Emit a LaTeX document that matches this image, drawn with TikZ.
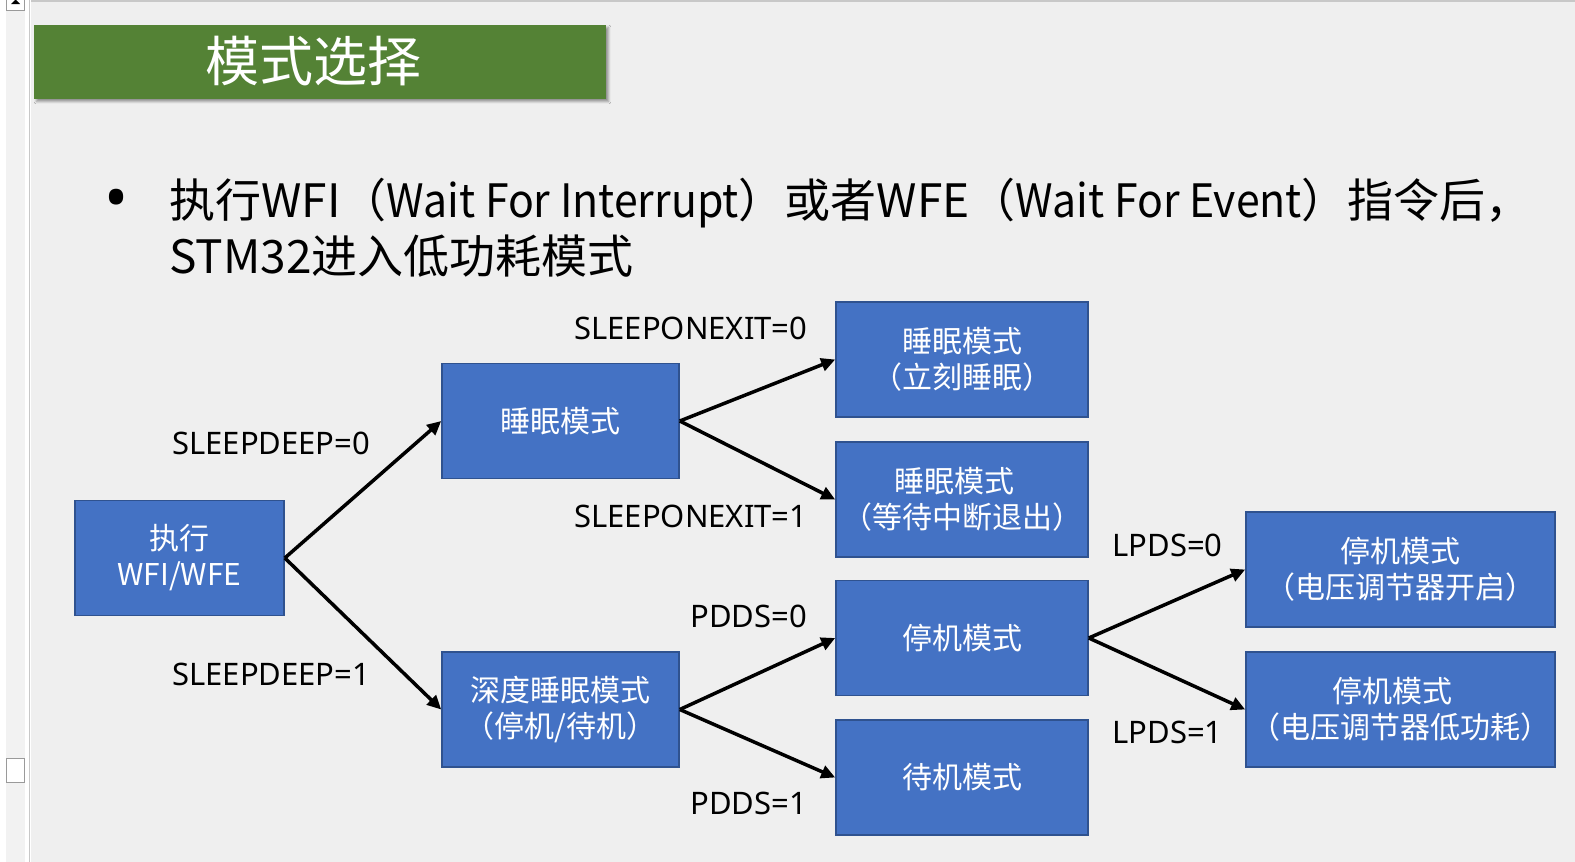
\documentclass[tikz,border=0pt]{standalone}
\usepackage{fontspec}
\setmainfont{Noto Sans CJK SC}
\newfontfamily\condfont{Noto Sans}
\usetikzlibrary{arrows.meta,shadows.blur}

\definecolor{slidebg}{HTML}{EFEFEF}
\definecolor{titlegreen}{HTML}{548235}
\definecolor{boxblue}{HTML}{4472C4}
\definecolor{boxedge}{HTML}{2F528F}
\definecolor{trackgray}{HTML}{F2F2F2}
\definecolor{edgegray}{HTML}{C8C8C8}
\definecolor{thumbgray}{HTML}{9A9A9A}

% narrower setting for the Latin phrases of the body text
\newcommand{\narrowtext}[1]{\scalebox{0.93}[1]{#1}}

\tikzset{
  modebox/.style={draw=boxedge, line width=0.8pt, fill=boxblue, text=white,
    align=center, inner sep=0pt, minimum height=57.5pt,
    font=\fontsize{15pt}{18pt}\selectfont},
  cond/.style={anchor=west, inner sep=0pt, text=black,
    font=\condfont\fontsize{15.5pt}{18pt}\selectfont},
  flow/.style={line width=1.75pt, -{Triangle[length=7pt,width=6.5pt]}},
  bodytext/.style={anchor=base west, inner sep=0pt, text=black,
    font=\fontsize{23pt}{28pt}\selectfont},
}

\begin{document}
\begin{tikzpicture}[x=0.5pt,y=-0.5pt]
\useasboundingbox (0,0) rectangle (1575,862);

% window chrome on the left and slide background
\fill[white] (0,0) rectangle (31,862);
\fill[trackgray] (6,0) rectangle (25,862);
\fill[slidebg] (31,2) rectangle (1575,862);
\draw[edgegray, line width=0.75pt] (29.5,0) -- (29.5,862);
\draw[edgegray, line width=0.75pt] (31,1) -- (1575,1);
\draw[fill=white, draw=thumbgray, line width=0.5pt] (6.5,-2) rectangle (24.5,10);
\fill[black] (11,4) -- (20,4) -- (15.5,-0.5) -- cycle;
\draw[fill=white, draw=thumbgray, line width=0.5pt] (6.5,758) rectangle (24.5,782);

% title bar
\node[fill=titlegreen, minimum width=286pt, minimum height=37pt, inner sep=0pt,
      text=white, font=\fontsize{27pt}{30pt}\selectfont,
      blur shadow={shadow xshift=1.5pt, shadow yshift=-1.5pt,
                   shadow blur radius=1.2pt, shadow opacity=40}]
  (title) at (319.5,61.5) {模式选择\hspace*{6.5pt}};

% bullet text
\node[anchor=center, inner sep=0pt, font=\condfont\fontsize{32pt}{36pt}\selectfont] (dot) at (117,205) {•};
\node[bodytext] (line1) at (169,217.5)
  {执行WFI（\narrowtext{Wait For Interrupt}）或者WFE（\narrowtext{Wait For Event}）指令后，};
\node[bodytext] (line2) at (169,273.5) {STM32进入低功耗模式};

% mode boxes
\node[modebox, minimum width=104.5pt] (exec)  at (179.5,558)   {执行\\WFI/WFE};
\node[modebox, minimum width=118.5pt] (sleep) at (560.5,421)   {睡眠模式};
\node[modebox, minimum width=118.5pt] (deep)  at (560.5,709.5) {深度睡眠模式\\（停机/待机）};
\node[modebox, minimum width=126pt]   (snow)  at (962,359.5)   {睡眠模式\\（立刻睡眠）};
\node[modebox, minimum width=126pt]   (sexit) at (962,499.5)   {睡眠模式\hspace*{7.5pt}\\（等待中断退出）};
\node[modebox, minimum width=126pt]   (stop)  at (962,638)     {停机模式};
\node[modebox, minimum width=126pt]   (stby)  at (962,777.5)   {待机模式};
\node[modebox, minimum width=154.5pt] (lon)   at (1400.5,569.5) {停机模式\\（电压调节器开启）};
\node[modebox, minimum width=154.5pt] (llow)  at (1400.5,709.5) {停机模式\hspace*{8pt}\\（电压调节器低功耗）};

% connectors
\draw[flow] (exec.east) -- (sleep.west);
\draw[flow] (exec.east) -- (deep.west);
\draw[flow] (sleep.east) -- (snow.west);
\draw[flow] (sleep.east) -- (sexit.west);
\draw[flow] (deep.east) -- (stop.west);
\draw[flow] (deep.east) -- (stby.west);
\draw[flow] (stop.east) -- (lon.west);
\draw[flow] (stop.east) -- (llow.west);

% register conditions
\node[cond] (sd0) at (172,443) {SLEEPDEEP=0};
\node[cond] (sd1) at (172,674) {SLEEPDEEP=1};
\node[cond] (so0) at (574,328) {SLEEPONEXIT=0};
\node[cond] (so1) at (574,516) {SLEEPONEXIT=1};
\node[cond] (pd0) at (690,616) {PDDS=0};
\node[cond] (pd1) at (690,803) {PDDS=1};
\node[cond] (lp0) at (1112,545) {LPDS=0};
\node[cond] (lp1) at (1112,732) {LPDS=1};
\end{tikzpicture}
\end{document}
